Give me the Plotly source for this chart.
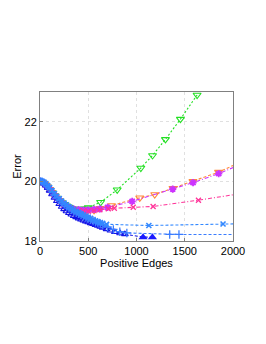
import plotly.graph_objects as go

# ---- data ----
green_x = [0, 25, 50, 75, 100, 125, 150, 175, 200, 225, 250, 275, 300, 325, 350, 375, 400, 430, 460, 500, 628, 800, 1045, 1166, 1300, 1455, 1628]
green_y = [20.0, 19.97, 19.9, 19.82, 19.73, 19.63, 19.53, 19.44, 19.36, 19.29, 19.23, 19.18, 19.14, 19.1, 19.08, 19.06, 19.06, 19.07, 19.08, 19.12, 19.3, 19.72, 20.45, 20.87, 21.41, 22.09, 22.9]

orange_x = [0, 25, 50, 75, 100, 125, 150, 175, 200, 225, 250, 275, 300, 325, 350, 375, 400, 430, 460, 483, 560, 620, 741, 1034, 1189, 1378, 1585, 1850, 2100]
orange_y = [20.0, 19.97, 19.9, 19.82, 19.73, 19.62, 19.52, 19.43, 19.35, 19.27, 19.2, 19.15, 19.1, 19.06, 19.03, 19.01, 18.99, 18.98, 18.98, 18.98, 19.03, 19.1, 19.19, 19.45, 19.56, 19.77, 20.0, 20.31, 20.68]

purple_x = [0, 25, 50, 75, 100, 125, 150, 175, 200, 225, 250, 275, 300, 325, 350, 400, 450, 500, 560, 620, 700, 955, 1375, 1586, 1852, 2100]
purple_y = [20.0, 19.97, 19.9, 19.82, 19.73, 19.63, 19.53, 19.44, 19.36, 19.28, 19.22, 19.16, 19.12, 19.09, 19.07, 19.05, 19.04, 19.04, 19.06, 19.08, 19.13, 19.33, 19.74, 19.96, 20.26, 20.6]

pink_x = [0, 25, 50, 75, 100, 125, 150, 175, 200, 225, 250, 275, 300, 325, 350, 400, 450, 500, 560, 620, 707, 770, 966, 1172, 1642, 2100]
pink_y = [20.0, 19.97, 19.9, 19.82, 19.73, 19.63, 19.53, 19.44, 19.35, 19.27, 19.2, 19.14, 19.1, 19.07, 19.05, 19.02, 19.01, 19.0, 19.02, 19.05, 19.08, 19.1, 19.13, 19.16, 19.37, 19.6]

bluex_x = [0, 20, 40, 60, 80, 100, 125, 150, 175, 200, 225, 250, 275, 300, 325, 350, 375, 400, 425, 450, 475, 500, 525, 550, 575, 600, 625, 650, 690, 1128, 1897, 2100]
bluex_y = [20.03, 20.01, 19.98, 19.93, 19.86, 19.79, 19.69, 19.59, 19.5, 19.42, 19.34, 19.27, 19.21, 19.15, 19.1, 19.05, 19.0, 18.96, 18.92, 18.88, 18.84, 18.8, 18.76, 18.72, 18.68, 18.65, 18.62, 18.59, 18.56, 18.52, 18.57, 18.58]

bluep_x = [0, 20, 40, 60, 80, 100, 125, 150, 175, 200, 225, 250, 275, 300, 325, 350, 375, 400, 425, 450, 475, 500, 525, 550, 575, 600, 625, 650, 700, 760, 827, 900, 1344, 1440, 2100]
bluep_y = [20.01, 19.99, 19.95, 19.9, 19.83, 19.75, 19.65, 19.55, 19.46, 19.37, 19.29, 19.22, 19.16, 19.1, 19.05, 19.0, 18.95, 18.91, 18.87, 18.83, 18.79, 18.75, 18.71, 18.67, 18.63, 18.6, 18.57, 18.54, 18.47, 18.39, 18.31, 18.27, 18.22, 18.22, 18.22]

dblue_x = [0, 20, 40, 60, 80, 100, 125, 150, 175, 200, 225, 250, 275, 300, 325, 350, 375, 400, 425, 450, 475, 500, 525, 550, 575, 600, 625, 650, 690, 730, 776, 830, 880]
dblue_y = [20.0, 19.98, 19.93, 19.86, 19.78, 19.69, 19.57, 19.45, 19.34, 19.24, 19.15, 19.07, 19.0, 18.94, 18.89, 18.84, 18.8, 18.76, 18.72, 18.69, 18.66, 18.63, 18.6, 18.57, 18.54, 18.51, 18.48, 18.45, 18.4, 18.35, 18.3, 18.26, 18.23]

dbluef_x = [880, 1068, 1165]
dbluef_y = [18.23, 18.13, 18.13]

x_ticks = [0, 500, 1000, 1500, 2000]
y_ticks = [18, 20, 22]

# ---- figure ----
fig = go.Figure()
FONT = "Liberation Sans, Arial, sans-serif"

def add(x, y, color, dash, symbol, size, lw=1.1, mlw=1.1):
    fig.add_trace(go.Scatter(
        x=x, y=y, mode="lines+markers",
        line=dict(color=color, width=lw, dash=dash),
        marker=dict(symbol=symbol, size=size, color=color,
                    line=dict(color=color, width=mlw)),
        showlegend=False, cliponaxis=True))

add(green_x, green_y, "#22e022", "2px,2px", "triangle-down-open", 7)
add(orange_x, orange_y, "#ff8a3a", "3px,2px", "triangle-down-open", 7)
add(purple_x, purple_y, "#cc33ff", "4px,2px,1px,2px", "asterisk-open", 6, mlw=1.8)
add(pink_x, pink_y, "#ff3399", "4px,2px,1px,2px", "x-thin-open", 5, mlw=1.3)
add(dblue_x, dblue_y, "#1414e6", "3px,2px", "triangle-up-open", 6)
fig.add_trace(go.Scatter(
    x=dbluef_x, y=dbluef_y, mode="lines",
    line=dict(color="#1414e6", width=1.1, dash="3px,2px"), showlegend=False))
fig.add_trace(go.Scatter(
    x=dbluef_x[1:], y=dbluef_y[1:], mode="markers",
    marker=dict(symbol="triangle-up", size=8, color="#1a1aff"), showlegend=False))
add(bluep_x, bluep_y, "#3a7cff", "3px,2px", "cross-thin-open", 6, mlw=1.3)
add(bluex_x, bluex_y, "#3388ff", "3px,2px", "x-thin-open", 5, mlw=1.6)

axis_common = dict(
    showgrid=True, gridcolor="#e0e0e0", griddash="dot", gridwidth=1,
    showline=True, linecolor="#808080", linewidth=1, mirror=True,
    ticks="inside", ticklen=3, tickcolor="#808080",
    tickfont=dict(family=FONT, size=11, color="black"),
    zeroline=False, automargin=False,
)

# page body has an 8px margin, so the figure is sized to fit the window
fig.update_layout(
    width=258, height=336,
    margin=dict(l=32, r=33, t=84, b=103),
    paper_bgcolor="white", plot_bgcolor="white",
    xaxis=dict(range=[0, 2000], tickvals=x_ticks,
               title=dict(text="Positive Edges", standoff=0,
                          font=dict(family=FONT, size=11, color="black")),
               **axis_common),
    yaxis=dict(range=[18, 23], tickvals=y_ticks,
               title=dict(text="Error", standoff=0,
                          font=dict(family=FONT, size=11, color="black")),
               **axis_common),
)

fig.write_html("out.html")
